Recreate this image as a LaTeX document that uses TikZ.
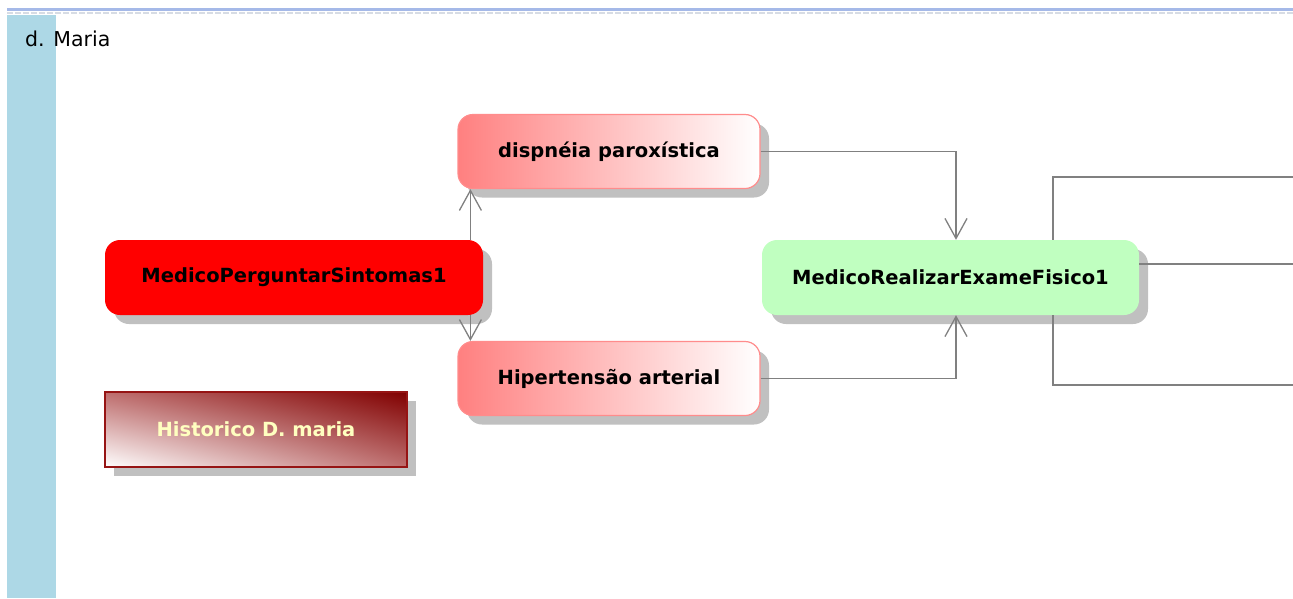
\documentclass[tikz,border=0pt]{standalone}
\usepackage{fontspec}
\setmainfont{DejaVu Sans}
\usetikzlibrary{arrows.meta,shadows,shadings}
\definecolor{barblue}{RGB}{173,216,230}
\definecolor{topblue}{RGB}{165,185,232}
\definecolor{dotgray}{RGB}{215,220,228}
\definecolor{shadowgray}{RGB}{192,192,192}
\definecolor{linegray}{RGB}{128,128,128}
\definecolor{pinkfill}{RGB}{255,128,128}
\definecolor{pinkborder}{RGB}{255,140,140}
\definecolor{actred}{RGB}{255,0,0}
\definecolor{actgreen}{RGB}{192,255,192}
\definecolor{histdark}{RGB}{128,0,0}
\definecolor{histmid}{RGB}{190,110,110}
\definecolor{histborder}{RGB}{150,20,20}
\definecolor{histtext}{RGB}{255,255,192}
\tikzset{
  boxshadow/.style={general shadow={fill=shadowgray, shadow xshift=9pt, shadow yshift=-9pt}},
  actbox/.style={rectangle, rounded corners=15pt, minimum width=378pt, minimum height=75pt,
    inner sep=0pt, font=\bfseries\fontsize{19.5}{22}\selectfont, text=black, boxshadow},
  redbox/.style={actbox, fill=actred},
  greenbox/.style={actbox, fill=actgreen},
  pinkbox/.style={actbox, minimum width=302pt, minimum height=74pt, left color=pinkfill, right color=white, draw=pinkborder, line width=1.2pt},
  histbox/.style={rectangle, minimum width=302pt, minimum height=75pt, inner sep=0pt,
    upper right=histdark, lower left=white, upper left=histmid, lower right=histmid,
    draw=histborder, line width=1.5pt, font=\bfseries\fontsize{19.5}{22}\selectfont, text=histtext, boxshadow},
  conn/.style={draw=linegray, line width=1.3pt},
  arr/.style={conn, -{Straight Barb[length=20pt,width=22pt,line width=1.3pt]}},
}
\begin{document}
\begin{tikzpicture}[x=1pt,y=-1pt]
\useasboundingbox[fill=white] (0,0) rectangle (1293,598);
% frame
\draw[topblue, line width=3pt] (7,9.5) -- (1293,9.5);
\draw[dotgray, line width=1.5pt, dash pattern=on 6pt off 2pt] (7,13) -- (1293,13);
\fill[barblue] (7,14.5) rectangle (56,598);
\node[anchor=base west, inner sep=0pt, font=\fontsize{20.5}{24}\selectfont] (lane) at (25,46) {d. Maria};
% nodes
\node[redbox] (perg) at (294,277.5) {MedicoPerguntarSintomas1};
\node[pinkbox] (dis) at (609,151.5) {dispnéia paroxística};
\node[pinkbox] (hip) at (609,378.5) {Hipertensão arterial};
\node[greenbox, minimum width=377pt] (real) at (950.5,277.5) {MedicoRealizarExameFisico1};
\node[histbox] (hist) at (256,429.5) {Historico D. maria};
% connectors
\coordinate (da) at ([xshift=13pt]dis.south west);
\coordinate (ha) at ([xshift=13pt]hip.north west);
\draw[arr] (perg.north -| da) -- (da);
\draw[arr] (perg.south -| ha) -- (ha);
\draw[arr] (dis.east) -| ([xshift=5.5pt]real.north);
\draw[arr] (hip.east) -| ([xshift=5.5pt]real.south);
\coordinate (o1) at (1293,177);
\coordinate (o2) at (1293,264);
\coordinate (o3) at (1293,385);
\draw[conn] ([xshift=102.5pt]real.north) |- (o1);
\draw[conn] (real.east |- o2) -- (o2);
\draw[conn] ([xshift=102.5pt]real.south) |- (o3);
\end{tikzpicture}
\end{document}
